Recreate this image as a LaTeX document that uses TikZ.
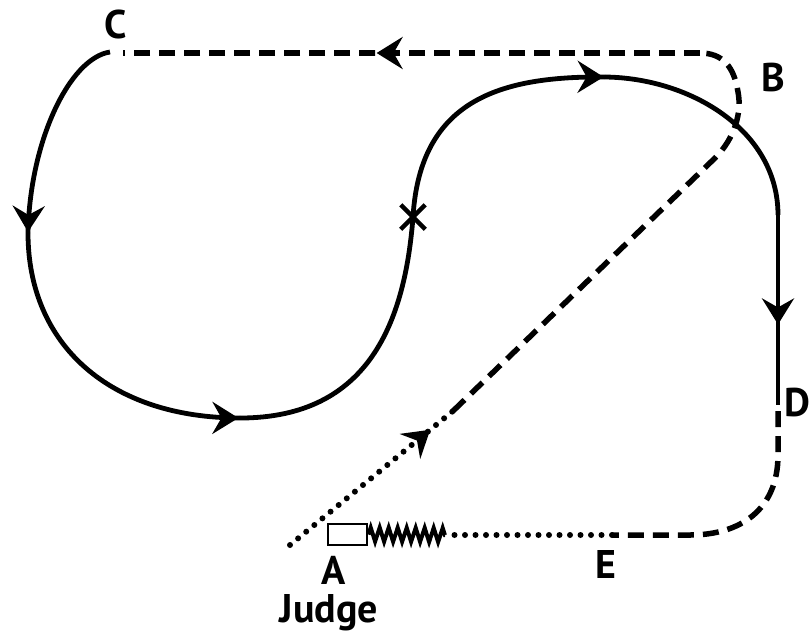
\documentclass[tikz,border=0pt]{standalone}
\usepackage{fontspec}
\setsansfont{PT Sans}
\usetikzlibrary{arrows.meta, decorations.markings, decorations.pathmorphing, shapes.misc}

\begin{document}
\begin{tikzpicture}[
    x=1pt, y=-1pt,
    track/.style={line width=4.8pt},
    dashtrack/.style={line width=5.5pt, dash pattern=on 16pt off 9pt},
    dottrack/.style={line width=6pt, line cap=round, dash pattern=on 0pt off 10.5pt},
    lbl/.style={font=\sffamily\bfseries\fontsize{40}{44}\selectfont, inner sep=0pt},
    arrowat/.style={postaction={decorate, decoration={markings,
      mark=at position #1 with {\arrow{Stealth[length=26pt, width=32pt, inset=9pt]}}}}},
  ]
  \useasboundingbox (0,0) rectangle (811,633);

  % --- points on the course ---
  \coordinate (C) at (110,52);
  \coordinate (left) at (28,233);
  \coordinate (bottom) at (240,418);
  \coordinate (top) at (605,77);
  \coordinate (right) at (778,215);
  \coordinate (down) at (778,325);
  \coordinate (D) at (778,405);
  \coordinate (bend) at (778,455);
  \coordinate (E) at (612,535);
  \coordinate (springend) at (445,535);
  \coordinate (start) at (290,545);
  \coordinate (switch) at (453,411);
  \coordinate (diag) at (715,158);
  \coordinate (B) at (738,92);
  \coordinate (corner) at (700,53);
  \coordinate (mid) at (375,53);
  \coordinate (Cend) at (123,53);

  % --- solid course ---
  \draw[track, arrowat=0.995] (C) .. controls (70,58) and (30,140) .. (left);
  \draw[track, arrowat=0.995] (left) .. controls (28,345) and (110,418) .. (bottom);
  \node[cross out, draw, line width=4.5pt, minimum size=20pt, inner sep=0pt] (cross) at (413,217) {};
  \draw[track] (bottom) .. controls (370,418) and (405,320) .. (cross.center);
  \draw[track, arrowat=0.995] (cross.center) .. controls (420,100) and (500,76) .. (top);
  \draw[track] (top) .. controls (690,78) and (778,130) .. (right);
  \draw[track, arrowat=0.995] (right) -- (down);
  \draw[track] (down) -- (D);

  % --- dashed and dotted course ---
  \draw[dashtrack] ([yshift=-6pt]D) -- (bend) .. controls (778,510) and (740,535) .. (690,535) -- (E);
  \draw[dottrack] (E) -- (springend);
  \node[draw, line width=2.8pt, minimum width=39pt, minimum height=21pt, inner sep=0pt] (judgebox) at (347.5,534.5) {};
  \draw[line width=4pt, decorate, decoration={zigzag, segment length=9pt, amplitude=7pt}]
    (judgebox.east) -- (springend);
  \draw[dottrack, arrowat=0.86] (start) -- (switch);
  \draw[dashtrack] (switch) -- (diag) .. controls (735,138) and (742,112) .. (B)
    .. controls (734,66) and (722,53) .. (corner);
  \draw[dashtrack, arrowat=0.995] (corner) -- (mid);
  \draw[dashtrack] (mid) -- (Cend);

  % --- labels ---
  \node[lbl] (labC) at (116,24) {C};
  \node[lbl] (labB) at (773,77) {B};
  \node[lbl, anchor=west] (labD) at (784,403) {D};
  \node[lbl] (labE) at (606,564) {E};
  \node[lbl] (labA) at (334,570) {A};
  \node[lbl, anchor=base] (judge) at (329,622) {Judge};
\end{tikzpicture}
\end{document}
